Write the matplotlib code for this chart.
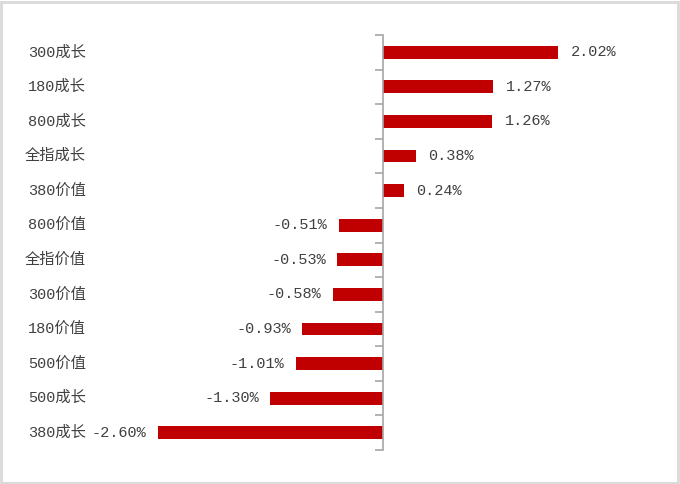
import matplotlib.pyplot as plt
from matplotlib.patches import Rectangle
from matplotlib.transforms import blended_transform_factory

plt.rcParams['font.family'] = ['Liberation Mono', 'Noto Sans CJK SC']

categories = ['300成长', '180成长', '800成长', '全指成长', '380价值', '800价值',
              '全指价值', '300价值', '180价值', '500价值', '500成长', '380成长']
values = [2.02, 1.27, 1.26, 0.38, 0.24, -0.51, -0.53, -0.58, -0.93, -1.01, -1.30, -2.60]

W, H = 680, 484
fig = plt.figure(figsize=(W / 100, H / 100), dpi=100)

# axes placed in pixel terms: zero line at x=383, ~86.6 px per 1%
ax_l, ax_r, ax_t, ax_b = 130, 640, 35, 450
ppu = 86.6
x0 = 383
ax = fig.add_axes([ax_l / W, 1 - ax_b / H, (ax_r - ax_l) / W, (ax_b - ax_t) / H])
ax.set_xlim((ax_l - x0) / ppu, (ax_r - x0) / ppu)
ax.set_ylim(len(categories) - 0.5, -0.5)

ypos = list(range(len(categories)))
ax.barh(ypos, values, height=0.37, color='#c00000', zorder=2)

for s in ['top', 'right', 'bottom']:
    ax.spines[s].set_visible(False)
ax.spines['left'].set_position(('data', 0))
ax.spines['left'].set_color('#a6a6a6')
ax.spines['left'].set_linewidth(1.2)
ax.set_xticks([])
ax.set_yticks([i - 0.5 for i in range(len(categories) + 1)])
ax.set_yticklabels([])
ax.tick_params(axis='y', direction='out', length=6, width=1.2, color='#a6a6a6')

txt = '#404040'
lab_tr = blended_transform_factory(fig.transFigure, ax.transData)
for i, (c, v) in enumerate(zip(categories, values)):
    fig.text(86 / W, i, c, ha='right', va='center', fontsize=11, color=txt,
             transform=lab_tr)
    if v >= 0:
        ax.annotate('%.2f%%' % v, (v, i), xytext=(9, 0), textcoords='offset points',
                    ha='left', va='center', fontsize=11, color=txt)
    else:
        ax.annotate('%.2f%%' % v, (v, i), xytext=(-8, 0), textcoords='offset points',
                    ha='right', va='center', fontsize=11, color=txt)

fig.patches.append(Rectangle((0.002, 0.003), 0.995, 0.993, transform=fig.transFigure,
                             fill=False, edgecolor='#d9d9d9', linewidth=2))

fig.savefig('out.png', dpi=100)
